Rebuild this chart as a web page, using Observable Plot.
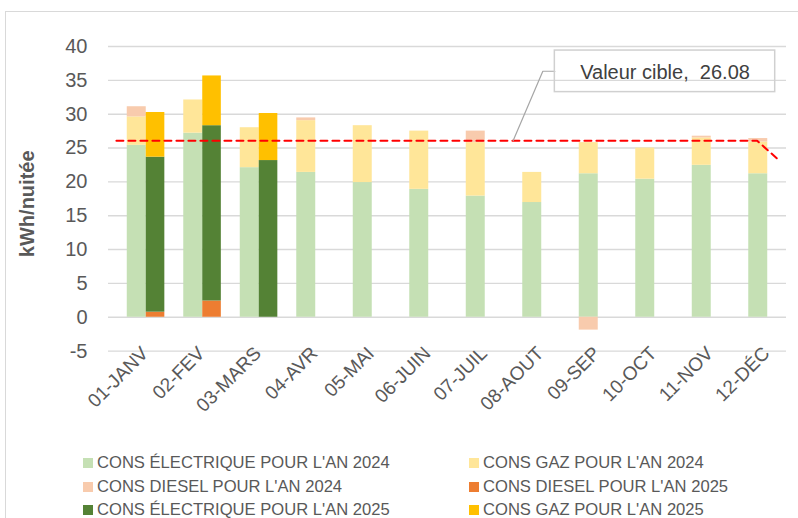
<!DOCTYPE html>
<html>
<head>
<meta charset="utf-8">
<script src="https://cdn.jsdelivr.net/npm/d3@7"></script>
<script src="https://cdn.jsdelivr.net/npm/@observablehq/plot@0.6"></script>
<style>
  html, body { margin: 0; padding: 0; background: #fff; }
  #wrap { position: relative; width: 798px; height: 518px; overflow: hidden; font-family: "Liberation Sans", Arial, sans-serif; }
  #border { position: absolute; left: 5px; top: 11px; width: 820px; height: 540px; border-left: 1.5px solid #d9d9d9; border-top: 1.5px solid #d9d9d9; pointer-events: none; }
  .lg { position: absolute; display: flex; align-items: center; font-size: 16.6px; color: #595959; white-space: nowrap; height: 20px; }
  .lg .sw { width: 10px; height: 10px; margin-right: 4px; }
</style>
</head>
<body>
<div id="wrap"><div id="chart"></div><div id="legend"></div><div id="border"></div></div>
<script>
// ---- data ----
const months = ["01-JANV", "02-FEV", "03-MARS", "04-AVR", "05-MAI", "06-JUIN", "07-JUIL", "08-AOUT", "09-SEP", "10-OCT", "11-NOV", "12-DÉC"];
const elec2024   = [25.4, 27.2, 22.1, 21.4, 19.9, 18.9, 17.9, 16.95, 21.2, 20.4, 22.45, 21.2];
const gaz2024    = [4.2, 4.9, 5.9, 7.65, 8.4, 8.6, 7.9, 4.45, 4.6, 4.6, 4.05, 4.7];
const diesel2024 = [1.5, 0, 0, 0.4, 0, 0, 1.7, 0, -1.9, 0, 0.25, 0.5];
const diesel2025 = [0.75, 2.4, 0, null, null, null, null, null, null, null, null, null];
const elec2025   = [22.9, 25.9, 23.15, null, null, null, null, null, null, null, null, null];
const gaz2025    = [6.6, 7.35, 6.95, null, null, null, null, null, null, null, null, null];
const yTicks = [-5, 0, 5, 10, 15, 20, 25, 30, 35, 40];
const targetValue = 26.08;
const targetLabel = "Valeur cible,  26.08";
// target line path (x in month-index units)
const targetX = [-0.36, 10.98, 11.34];
const targetY = [targetValue, targetValue, 23.4];

const names = {
  e24: "CONS ÉLECTRIQUE POUR L'AN 2024", g24: "CONS GAZ POUR L'AN 2024",
  d24: "CONS DIESEL POUR L'AN 2024", d25: "CONS DIESEL POUR L'AN 2025",
  e25: "CONS ÉLECTRIQUE POUR L'AN 2025", g25: "CONS GAZ POUR L'AN 2025"
};
const colors = { e24: "#C5E0B4", g24: "#FFE699", d24: "#F8CBAD", d25: "#ED7D31", e25: "#548235", g25: "#FFC000" };

// ---- build stacked segments ----
const groups = [
  { off: [-0.168, 0.168], series: [["e24", elec2024], ["g24", gaz2024], ["d24", diesel2024]] },
  { off: [0.168, 0.497], series: [["d25", diesel2025], ["e25", elec2025], ["g25", gaz2025]] }
];
const segs = [];
for (const g of groups) {
  months.forEach((m, i) => {
    let pos = 0, neg = 0;
    for (const [key, vals] of g.series) {
      const v = vals[i];
      if (v == null || v === 0) continue;
      let y1, y2;
      if (v > 0) { y1 = pos; y2 = pos + v; pos = y2; } else { y1 = neg; y2 = neg + v; neg = y2; }
      segs.push({ x1: i + g.off[0], x2: i + g.off[1], y1, y2, key });
    }
  });
}

const H = 440;
const chart = Plot.plot({
  width: 798, height: H,
  marginLeft: 108, marginRight: 12, marginTop: 46, marginBottom: H - 350.6,
  style: { fontFamily: "'Liberation Sans', Arial, sans-serif", fontSize: "20px", color: "#595959", background: "transparent", overflow: "visible" },
  x: { domain: [-0.5, 11.5], axis: null },
  y: { domain: [-5, 40], ticks: yTicks, tickSize: 0, tickPadding: 21, tickFormat: d => String(d), label: null },
  marks: [
    Plot.ruleY(yTicks, { stroke: "#d9d9d9", strokeWidth: 1.4 }),
    Plot.rect(segs, { x1: "x1", x2: "x2", y1: "y1", y2: "y2", fill: d => colors[d.key] }),
    Plot.line(targetX.map((x, i) => ({ x, y: targetY[i] })), { x: "x", y: "y", stroke: "#FF0000", strokeWidth: 2, strokeDasharray: "7,5" }),
    // annotation leader and box
    Plot.line([{ x: 7.40, y: 36.34 }, { x: 7.187, y: 36.34 }, { x: 6.663, y: 26.1 }], { x: "x", y: "y", stroke: "#a6a6a6", strokeWidth: 1.2 }),
    Plot.rect([{ x1: 7.40, x2: 11.30, y1: 33.26, y2: 39.4 }], { x1: "x1", x2: "x2", y1: "y1", y2: "y2", fill: "none", stroke: "#d0d0d0", strokeWidth: 1.5 }),
    Plot.text([targetLabel], { x: 9.35, y: 36.15, text: d => d, fontSize: 20, fill: "#404040" }),
    // month labels
    Plot.text(months, { x: (d, i) => i, y: -5, text: d => d, rotate: -45, textAnchor: "end", lineAnchor: "top", dx: 3, dy: -6, fontSize: 19, fill: "#595959" }),
    // y title
    Plot.text(["kWh/nuitée"], { frameAnchor: "left", textAnchor: "middle", text: d => d, rotate: -90, dx: -81, dy: 5, fontSize: 20, fontWeight: "bold", fill: "#595959" })
  ]
});
document.getElementById("chart").appendChild(chart);

// ---- legend ----
const legendItems = [
  ["e24", 0, 0], ["g24", 1, 0],
  ["d24", 0, 1], ["d25", 1, 1],
  ["e25", 0, 2], ["g25", 1, 2]
];
const colLeft = [83, 469];
const rowCenter = [462.5, 486.5, 509.5];
const lg = document.getElementById("legend");
for (const [key, c, r] of legendItems) {
  const el = document.createElement("div");
  el.className = "lg";
  el.style.left = colLeft[c] + "px";
  el.style.top = (rowCenter[r] - 10) + "px";
  el.innerHTML = `<span class="sw" style="background:${colors[key]}"></span><span>${names[key]}</span>`;
  lg.appendChild(el);
}
</script>
</body>
</html>
